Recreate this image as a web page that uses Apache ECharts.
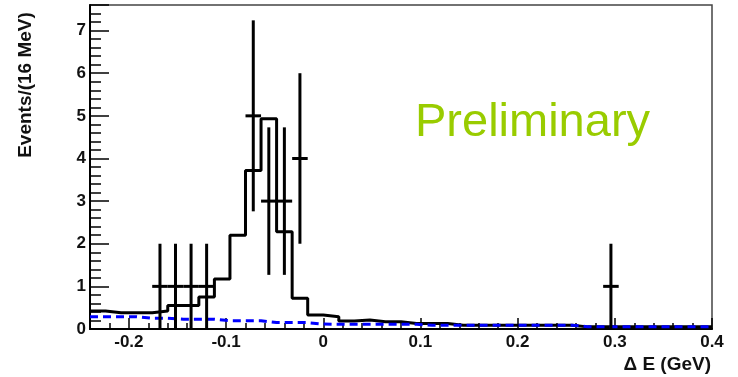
<!DOCTYPE html>
<html>
<head>
<meta charset="utf-8">
<script src="https://cdn.jsdelivr.net/npm/echarts@6/dist/echarts.min.js"></script>
<style>
  html, body { margin: 0; padding: 0; background: #fff; }
  #main { width: 738px; height: 377px; }
</style>
</head>
<body>
<div id="main"></div>
<script>
// histogram binning (16 MeV bins from -0.24 to 0.4 GeV)
const binStart = -0.24;
const binWidth = 0.016;

// black histogram, one value per bin
const histValues = [
  0.42, 0.38, 0.38, 0.38, 0.42, 0.55, 0.55, 0.75, 1.17, 2.2,
  3.72, 4.93, 2.28, 0.72, 0.33, 0.29, 0.19, 0.21, 0.17, 0.17,
  0.13, 0.13, 0.13, 0.09, 0.09, 0.09, 0.09, 0.09, 0.09, 0.09,
  0.09, 0.05, 0.05, 0.05, 0.05, 0.05, 0.05, 0.05, 0.05, 0.05
];

// blue dashed background, one value per bin
const bkgValues = [
  0.29, 0.29, 0.29, 0.25, 0.25, 0.23, 0.23, 0.23, 0.195, 0.195,
  0.195, 0.15, 0.15, 0.15, 0.115, 0.11, 0.11, 0.11, 0.11, 0.11,
  0.11, 0.087, 0.087, 0.087, 0.087, 0.087, 0.087, 0.087, 0.087, 0.087,
  0.087, 0.055, 0.055, 0.055, 0.055, 0.055, 0.055, 0.055, 0.055, 0.055
];

// data points with error bars
const ptX   = [-0.168, -0.152, -0.136, -0.12, -0.072, -0.056, -0.04, -0.024, 0.296];
const ptY   = [1, 1, 1, 1, 5, 3, 3, 4, 1];
const ptErr = [1, 1, 1, 1, 2.24, 1.73, 1.73, 2, 1];

const xMin = -0.24, xMax = 0.4;
const yMin = 0, yMax = 7.6;

// step data: left edge of every bin + closing right edge
function stepData(values) {
  const d = values.map((v, i) => [binStart + i * binWidth, v]);
  d.push([xMax, values[values.length - 1]]);
  return d;
}

const pointData = ptX.map((x, i) => [x, ptY[i], ptErr[i]]);

const fontFam = '"Liberation Sans", Arial, Helvetica, sans-serif';
const tenth = v => Math.abs(v * 10 - Math.round(v * 10)) < 1e-6;

const chart = echarts.init(document.getElementById('main'));

const option = {
  animation: false,
  grid: {
    left: 90, right: 26, top: 5, bottom: 48,
    show: true, borderColor: '#444', borderWidth: 1.5
  },
  xAxis: [
    {
      type: 'value', min: xMin, max: xMax,
      axisLine: { show: true, onZero: false, lineStyle: { color: '#000', width: 2 } },
      axisTick: { show: true, inside: true, length: 11, lineStyle: { color: '#000', width: 1.5 } },
      axisLabel: {
        margin: 5, color: '#111', fontSize: 17, fontWeight: 'bold', fontFamily: fontFam,
        formatter: v => tenth(v) ? String(Math.round(v * 10) / 10) : ''
      },
      splitLine: { show: false }
    },
    {
      type: 'value', min: xMin, max: xMax, interval: 0.02,
      position: 'bottom',
      axisLine: { show: false, onZero: false },
      axisTick: { show: true, inside: true, length: 6, lineStyle: { color: '#000', width: 1.5 } },
      axisLabel: { show: false },
      splitLine: { show: false }
    }
  ],
  yAxis: [
    {
      type: 'value', min: yMin, max: yMax, interval: 1,
      axisLine: { show: true, onZero: false, lineStyle: { color: '#000', width: 2 } },
      axisTick: { show: true, inside: true, length: 19, lineStyle: { color: '#000', width: 1.5 } },
      axisLabel: {
        margin: 4, color: '#111', fontSize: 17, fontWeight: 'bold', fontFamily: fontFam,
        formatter: v => Number.isInteger(v) ? String(v) : ''
      },
      splitLine: { show: false }
    },
    {
      type: 'value', min: yMin, max: yMax, interval: 0.2,
      position: 'left',
      axisLine: { show: false, onZero: false },
      axisTick: { show: true, inside: true, length: 11, lineStyle: { color: '#000', width: 1.5 } },
      axisLabel: { show: false },
      splitLine: { show: false }
    }
  ],
  series: [
    {
      type: 'line', step: 'end', symbol: 'none',
      data: stepData(histValues),
      lineStyle: { color: '#000', width: 3 },
      z: 2
    },
    {
      type: 'line', step: 'end', symbol: 'none',
      data: stepData(bkgValues),
      lineStyle: { color: '#0000ff', width: 3, type: [8, 5] },
      z: 3
    },
    {
      type: 'custom',
      data: pointData,
      z: 4,
      clip: true,
      renderItem: function (params, api) {
        const x = api.value(0), y = api.value(1), e = api.value(2);
        const lo = api.coord([x, Math.max(y - e, 0)]);
        const hi = api.coord([x, y + e]);
        const l = api.coord([x - binWidth / 2, y]);
        const r = api.coord([x + binWidth / 2, y]);
        return {
          type: 'group',
          children: [
            { type: 'line', shape: { x1: lo[0], y1: lo[1], x2: hi[0], y2: hi[1] },
              style: { stroke: '#000', lineWidth: 3 } },
            { type: 'line', shape: { x1: l[0], y1: l[1], x2: r[0], y2: r[1] },
              style: { stroke: '#000', lineWidth: 3 } }
          ]
        };
      }
    }
  ],
  graphic: [
    {
      type: 'text', left: 415, top: 100,
      style: { text: 'Preliminary', fill: '#99cc00', font: '47px ' + fontFam }
    },
    {
      type: 'text', x: 26, y: 85, rotation: Math.PI / 2,
      style: {
        text: 'Events/(16 MeV)', fill: '#111', font: 'bold 19px ' + fontFam,
        align: 'center', verticalAlign: 'middle'
      }
    },
    {
      type: 'text', x: 711, y: 365,
      style: {
        text: 'Δ E (GeV)', fill: '#111', font: 'bold 19px ' + fontFam,
        align: 'right', verticalAlign: 'middle'
      }
    }
  ]
};

chart.setOption(option);
</script>
</body>
</html>
